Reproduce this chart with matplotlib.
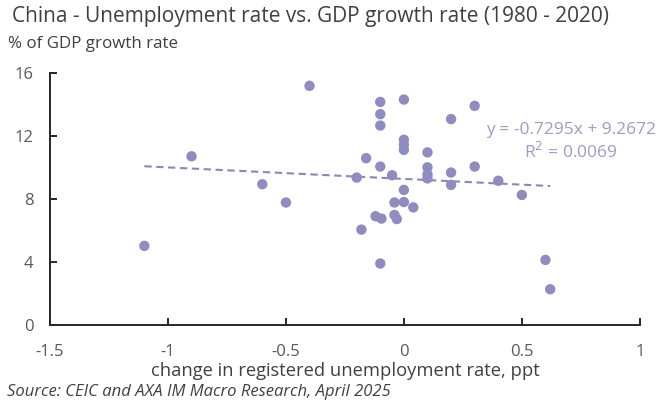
import numpy as np
import matplotlib
matplotlib.use("Agg")
import matplotlib.pyplot as plt

plt.rcParams['font.family'] = ['Open Sans', 'DejaVu Sans']

# change in registered unemployment rate (ppt) vs GDP growth (%)
unemp_change = [-1.1, -0.9, -0.6, -0.5, -0.4, -0.2, -0.18, -0.16,
                -0.1, -0.1, -0.1, -0.1, -0.12, -0.095, -0.1,
                0.0, 0.0, 0.0, 0.0, 0.0, 0.0, -0.04, 0.04, -0.04, -0.03, -0.05,
                0.1, 0.1, 0.1, 0.1, 0.2, 0.2, 0.2, 0.3, 0.3, 0.4, 0.5, 0.6, 0.62]
gdp_growth = [5.02, 10.7, 8.93, 7.77, 15.17, 9.35, 6.05, 10.58,
              14.15, 13.37, 12.65, 10.05, 6.9, 6.75, 3.9,
              14.3, 11.75, 11.43, 11.11, 8.57, 7.8, 7.77, 7.46, 6.98, 6.72, 9.5,
              10.95, 10.0, 9.55, 9.3, 13.06, 9.67, 8.89, 13.9, 10.05, 9.15, 8.25, 4.13, 2.27]

# trendline as reported on the chart
slope, intercept, r2 = -0.7295, 9.2672, 0.0069

x_ticks = [-1.5, -1, -0.5, 0, 0.5, 1]
y_ticks = [0, 4, 8, 12, 16]

dot_color = '#8f8cbf'
line_color = '#8a87b5'
text_gray = '#404040'
tick_gray = '#595959'

fig = plt.figure(figsize=(6.62, 4.03), dpi=100)
ax = fig.add_axes([0.0755, 0.1935, 0.891, 0.626])

ax.scatter(unemp_change, gdp_growth, s=56, color=dot_color, edgecolors='none', zorder=3)

x_fit = np.linspace(min(unemp_change), max(unemp_change), 50)
ax.plot(x_fit, intercept + slope * x_fit, '--', color=line_color, lw=1.5,
        dashes=(3.5, 2.2), zorder=2)

ax.text(0.708, 12.38, f"y = {slope}x + {intercept}", color='#9e9bc8', fontsize=12.5,
        ha='center', va='center')
ax.text(0.705, 10.98, f"R$^2$ = {r2:.4f}", color='#9e9bc8', fontsize=12.5,
        ha='center', va='center')

ax.set_xlim(-1.5, 1)
ax.set_ylim(0, 16)
ax.set_xticks(x_ticks)
ax.set_xticklabels(['-1.5', '-1', '-0.5', '0', '0.5', '1'])
ax.set_yticks(y_ticks)

for side in ['top', 'right']:
    ax.spines[side].set_visible(False)
for side in ['left', 'bottom']:
    ax.spines[side].set_color('#262626')
    ax.spines[side].set_linewidth(1.4)

ax.tick_params(axis='x', direction='in', length=5, width=1.4, color='#262626',
               labelsize=12, labelcolor=tick_gray, pad=14)
ax.tick_params(axis='y', direction='in', length=5, width=1.4, color='#262626',
               labelsize=12, labelcolor=tick_gray, pad=12)

ax.set_xlabel('change in registered unemployment rate, ppt', fontsize=13.2,
              color=text_gray, labelpad=1)

fig.text(0.018, 0.958, 'China - Unemployment rate vs. GDP growth rate (1980 - 2020)',
         fontsize=15, color=text_gray, va='center', ha='left')
fig.text(0.012, 0.89, '% of GDP growth rate', fontsize=12.2, color=text_gray,
         va='center', ha='left')
fig.text(0.01, 0.028, 'Source: CEIC and AXA IM Macro Research, April 2025',
         fontsize=12, color=text_gray, style='italic', va='center', ha='left')

fig.savefig('out.png', dpi=100)
